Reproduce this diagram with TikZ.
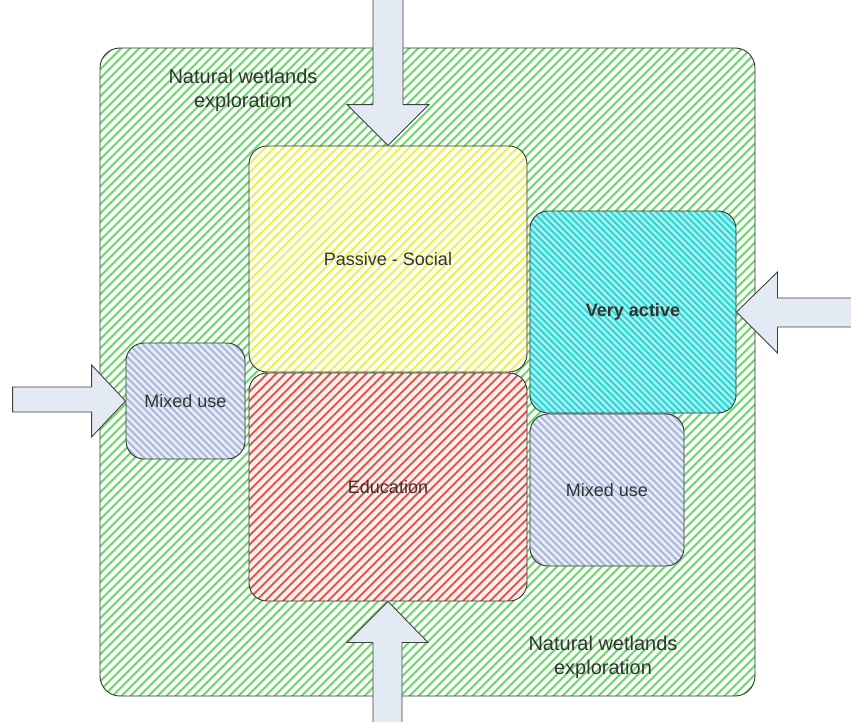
\documentclass[tikz,border=0pt]{standalone}
\usepackage{fontspec}
\setmainfont{Liberation Sans}
\definecolor{txt}{HTML}{333333}
\definecolor{greenln}{HTML}{66D866}
\definecolor{yellowln}{HTML}{E8F060}
\definecolor{yellowbg}{HTML}{FFFFF0}
\definecolor{redln}{HTML}{DC5A50}
\definecolor{redbg}{HTML}{FFF0F0}
\definecolor{cyanln}{HTML}{30D4D4}
\definecolor{cyanbg}{HTML}{A8F2F2}
\definecolor{greyln}{HTML}{A8B8D6}
\definecolor{greybg}{HTML}{E8ECF6}
\definecolor{arrowfill}{HTML}{E4EAF4}
\tikzset{
  zone/.style={rounded corners=18pt, draw=black!80, line width=0.9pt,
    font=\fontsize{18}{22}\selectfont, text=txt, inner sep=0pt},
  hatchup/.style n args={3}{fill=#3, path picture={
    \foreach \k in {-80,...,80}
      \draw[#2, line width=2pt] (path picture bounding box.center) ++(\k*#1,0) ++(-400,400) -- ++(800,-800);}},
  hatchdown/.style n args={3}{fill=#3, path picture={
    \foreach \k in {-60,...,60}
      \draw[#2, line width=1.8pt] (path picture bounding box.center) ++(\k*#1,0) ++(-300,-300) -- ++(600,600);}},
  blockarrow/.style={draw=black!75, line width=0.9pt, fill=arrowfill},
  label/.style={font=\fontsize{20}{24}\selectfont, text=txt, align=center}
}
\begin{document}
\begin{tikzpicture}[x=1pt,y=-1pt]
\useasboundingbox (0,0) rectangle (851,721);
\fill[white] (0,0) rectangle (851,721);
% outer zone
\node[zone, rounded corners=20pt, hatchup={9}{greenln}{white}, minimum width=655pt, minimum height=648pt] (outer) at (427.5,372) {};
% inner zones
\node[zone, hatchup={9}{yellowln}{yellowbg}, minimum width=278pt, minimum height=226pt] (passive) at (388,259) {Passive - Social};
\node[zone, hatchup={9}{redln}{redbg}, minimum width=278pt, minimum height=228pt] (edu) at (388,487) {Education};
\node[zone, hatchdown={6.5}{cyanln}{cyanbg}, minimum width=206pt, minimum height=202pt, font=\fontsize{18}{22}\selectfont\bfseries] (very) at (633,312) {Very active};
\node[zone, hatchdown={7}{greyln}{greybg}, minimum width=119pt, minimum height=116pt] (mixl) at (185.5,401) {Mixed use};
\node[zone, hatchdown={7}{greyln}{greybg}, minimum width=154pt, minimum height=152pt] (mixr) at (607,490) {Mixed use};
% labels
\node[label] (nwe1) at (243,90) {Natural wetlands\\exploration};
\node[label] (nwe2) at (603,657) {Natural wetlands\\exploration};
% block arrows
\draw[blockarrow] (passive.north) -- ++(-41,-41) -- ++(26,0) -- ++(0,-110) -- ++(30,0) -- ++(0,110) -- ++(26,0) -- cycle;
\draw[blockarrow] (edu.south) -- ++(-41,41) -- ++(26,0) -- ++(0,90) -- ++(29,0) -- ++(0,-90) -- ++(26,0) -- cycle;
\draw[blockarrow] (mixl.west) -- ++(-34,-36) -- ++(0,22) -- ++(-79,0) -- ++(0,25) -- ++(79,0) -- ++(0,25) -- cycle;
\draw[blockarrow] (very.east) -- ++(41,-40) -- ++(0,26) -- ++(90,0) -- ++(0,29) -- ++(-90,0) -- ++(0,26) -- cycle;
\end{tikzpicture}
\end{document}
